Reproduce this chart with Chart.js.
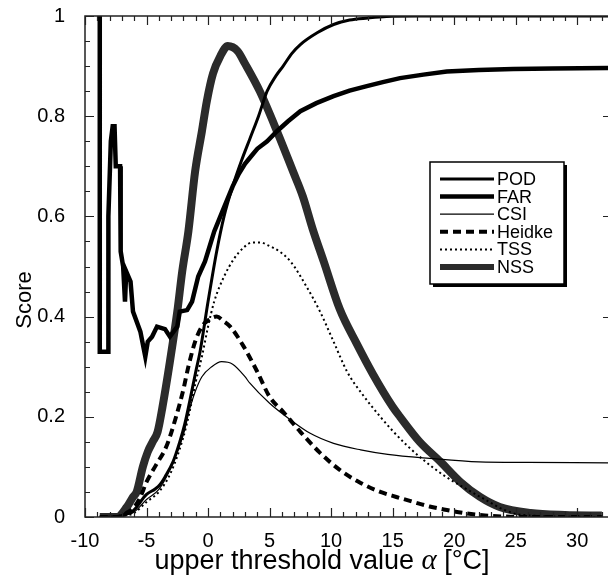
<!DOCTYPE html>
<html>
<head>
<meta charset="utf-8">
<title>Score vs upper threshold</title>
<script src="https://cdn.jsdelivr.net/npm/chart.js@4"></script>
<style>
  body { margin: 0; background: #fff; }
  #wrap { width: 608px; height: 577px; }
</style>
</head>
<body>
<div id="wrap"><canvas id="scoreChart" width="608" height="577"></canvas></div>
<script>
// threshold (deg C) / score pairs for each skill measure
var POD = [[-8.8,0],[-7.4,0],[-6.8,0.005],[-6.1,0.012],[-5.0,0.045],[-4.3,0.056],[-3.9,0.065],[-3.5,0.08],
    [-2.85,0.11],[-2.3,0.15],[-1.9,0.185],[-1.5,0.23],[-1.0,0.29],[-0.65,0.33],[0,0.43],[0.7,0.53],
    [1.3,0.6],[2.0,0.66],[2.7,0.71],[3.4,0.755],[4.1,0.80],[4.8,0.85],[5.5,0.88],[6.1,0.9],[6.8,0.925],
    [7.5,0.943],[8.9,0.967],[10.2,0.983],[11.5,0.992],[13,0.996],[14.5,0.999],[17,1],[32.5,1]];
var FAR = [[-8.8,1.0],[-8.8,0.33],[-8.1,0.33],[-8.1,0.60],[-7.9,0.75],[-7.75,0.78],[-7.6,0.78],[-7.5,0.70],
    [-7.15,0.70],[-7.1,0.53],[-6.9,0.50],[-6.75,0.43],[-6.65,0.49],[-6.3,0.47],[-6.1,0.41],[-5.5,0.37],
    [-5.1,0.32],[-4.9,0.35],[-4.55,0.36],[-4.15,0.38],[-3.5,0.375],[-3.1,0.36],[-2.5,0.38],[-2.3,0.41],
    [-1.7,0.413],[-1.3,0.43],[-0.8,0.48],[-0.25,0.51],[0,0.53],[0.5,0.57],[1.0,0.60],[1.5,0.63],[2.0,0.66],
    [2.5,0.685],[3.0,0.705],[3.5,0.72],[4.0,0.735],[4.8,0.75],[5.6,0.77],[6.5,0.79],[7.5,0.81],[8.8,0.826],
    [10.2,0.84],[11.5,0.851],[12.9,0.86],[14.2,0.868],[15.6,0.876],[17.5,0.883],[19.4,0.889],[22,0.892],
    [24.8,0.894],[28,0.895],[32.5,0.896]];
var CSI = [[-8.8,0],[-7.4,0],[-6.5,0.005],[-6,0.01],[-5,0.035],[-4,0.055],[-3,0.1],[-2,0.165],[-1.5,0.215],
    [-1.05,0.25],[-0.5,0.28],[0.3,0.30],[1.1,0.31],[2.0,0.305],[3.0,0.28],[3.4,0.267],[5.0,0.227],
    [6.7,0.194],[8.3,0.167],[10.2,0.147],[12.4,0.134],[14.6,0.125],[18,0.117],[22,0.11],[26,0.109],[32.5,0.108]];
var HEIDKE = [[-8.8,0],[-7.4,0],[-6.5,0.01],[-6,0.02],[-5.5,0.04],[-5,0.07],[-4.2,0.105],[-3.4,0.14],
    [-2.6,0.2],[-2.0,0.255],[-1.6,0.3],[-1.05,0.35],[-0.5,0.38],[0.15,0.395],[0.7,0.40],[1.3,0.39],
    [1.8,0.38],[2.9,0.34],[4.0,0.29],[5.0,0.24],[6.1,0.21],[7.5,0.17],[9.1,0.128],[10.7,0.094],
    [12.4,0.068],[14,0.05],[15.3,0.04],[16.7,0.03],[18,0.021],[19.4,0.014],[21,0.007],[22.5,0.003],
    [24,0.001],[25.5,0],[32,0]];
var TSS = [[-8.8,0],[-7.4,0],[-6.5,0.004],[-6,0.008],[-5,0.03],[-4,0.05],[-3,0.09],[-2,0.16],[-1.5,0.21],
    [-1.0,0.27],[-0.5,0.32],[0,0.38],[0.5,0.43],[1.3,0.48],[2.1,0.515],[2.9,0.538],[3.6,0.548],[4.3,0.548],
    [4.8,0.543],[5.8,0.53],[6.7,0.51],[8.0,0.46],[9.1,0.41],[10.2,0.35],[11.3,0.29],[12.6,0.243],[14.0,0.2],
    [15,0.172],[16.2,0.142],[17.5,0.114],[19.1,0.084],[20.7,0.06],[22.5,0.035],[24,0.015],[25.5,0.004],[32,0]];
var NSS = [[-8.8,0],[-7.4,0],[-6.6,0.02],[-6.1,0.04],[-5.8,0.05],[-5.3,0.10],[-4.9,0.13],[-4.5,0.15],
    [-4.1,0.17],[-3.7,0.22],[-3.1,0.31],[-2.5,0.41],[-2.1,0.49],[-1.6,0.57],[-1.05,0.69],[-0.5,0.77],
    [-0.1,0.83],[0.4,0.885],[1.0,0.92],[1.6,0.94],[2.4,0.93],[3.0,0.905],[4.2,0.85],[5.6,0.77],[6.9,0.69],
    [7.7,0.64],[8.5,0.575],[9.4,0.51],[10.7,0.415],[12.1,0.345],[13.4,0.285],[15.0,0.22],[15.6,0.2],
    [17.2,0.15],[18.9,0.11],[20.5,0.07],[22.1,0.04],[23.7,0.02],[26.2,0.008],[29,0.004],[32,0.003]];

var seriesNames = ['POD', 'FAR', 'CSI', 'Heidke', 'TSS', 'NSS'];
var xMin = -10, xMax = 32.5;
var FONT = "'Liberation Sans', Arial, Helvetica, sans-serif";

function pts(arr) {
    return arr.map(function(p) { return {x: p[0], y: p[1]}; });
}

// line look per series, shared by chart and legend
var styles = {
    'POD':    {color: '#000', width: 3, dash: []},
    'FAR':    {color: '#000', width: 4.5, dash: []},
    'CSI':    {color: '#000', width: 1.2, dash: []},
    'Heidke': {color: '#000', width: 4, dash: [8, 5]},
    'TSS':    {color: '#000', width: 2, dash: [2, 3]},
    'NSS':    {color: '#2b2b2b', width: 8, dash: []}
};
var seriesData = {'POD': POD, 'FAR': FAR, 'CSI': CSI, 'Heidke': HEIDKE, 'TSS': TSS, 'NSS': NSS};

var datasets = seriesNames.map(function(name, i) {
    var s = styles[name];
    return {
        label: name,
        data: pts(seriesData[name]),
        borderColor: s.color,
        borderWidth: s.width,
        borderDash: s.dash,
        pointRadius: 0,
        fill: false,
        cubicInterpolationMode: name === 'FAR' ? 'default' : 'monotone',
        tension: 0,
        order: name === 'NSS' ? 10 : i
    };
});

// axis frame with inward ticks, axis titles and the boxed legend
var framePlugin = {
    id: 'frame',
    afterDatasetsDraw: function(chart) {
        var ctx = chart.ctx, a = chart.chartArea;
        var xs = chart.scales.x, ys = chart.scales.y;
        ctx.save();
        ctx.strokeStyle = '#222';
        ctx.lineWidth = 1.5;
        ctx.beginPath();
        ctx.moveTo(a.right + 2, a.top); ctx.lineTo(a.left, a.top);
        ctx.lineTo(a.left, a.bottom); ctx.lineTo(a.right + 2, a.bottom);
        ctx.stroke();

        ctx.lineWidth = 1.2;
        ctx.beginPath();
        for (var v = -10; v <= 32; v++) {
            var px = Math.round(xs.getPixelForValue(v)) + 0.5;
            var len = (v % 5 === 0) ? 9 : 5;
            ctx.moveTo(px, a.bottom); ctx.lineTo(px, a.bottom - len);
            ctx.moveTo(px, a.top); ctx.lineTo(px, a.top + len);
        }
        for (var k = 0; k <= 20; k++) {
            var py = Math.round(ys.getPixelForValue(k * 0.05)) + 0.5;
            var major = (k % 4 === 0);
            ctx.moveTo(a.left, py); ctx.lineTo(a.left + (major ? 9 : 5), py);
            if (major && k > 0 && k < 20) {
                ctx.moveTo(a.right, py); ctx.lineTo(a.right - 5, py);
            }
        }
        ctx.stroke();

        // axis titles
        ctx.fillStyle = '#000';
        var titleFont = '27px ' + FONT;
        var greek = "italic 29px 'Liberation Serif', 'DejaVu Serif', serif";
        ctx.textBaseline = 'alphabetic';
        var t1 = 'upper threshold value ', t2 = '\u03b1', t3 = ' [\u00b0C]';
        ctx.font = titleFont;
        var w1 = ctx.measureText(t1).width, w3 = ctx.measureText(t3).width;
        ctx.font = greek;
        var w2 = ctx.measureText(t2).width;
        var tx = 322 - (w1 + w2 + w3) / 2, ty = 569;
        ctx.textAlign = 'left';
        ctx.font = titleFont;
        ctx.fillText(t1, tx, ty);
        ctx.font = greek;
        ctx.fillText(t2, tx + w1, ty);
        ctx.font = titleFont;
        ctx.fillText(t3, tx + w1 + w2, ty);

        ctx.save();
        ctx.translate(31, 300);
        ctx.rotate(-Math.PI / 2);
        ctx.textAlign = 'center';
        ctx.font = '22px ' + FONT;
        ctx.fillText('Score', 0, 0);
        ctx.restore();

        // legend box with drop shadow
        var bx = 430, by = 162, bw = 134, bh = 122;
        ctx.fillStyle = '#000';
        ctx.fillRect(bx + 3, by + 3, bw, bh);
        ctx.fillStyle = '#fff';
        ctx.fillRect(bx, by, bw, bh);
        ctx.strokeStyle = '#000';
        ctx.lineWidth = 1.5;
        ctx.strokeRect(bx, by, bw, bh);
        ctx.font = '18px ' + FONT;
        ctx.textAlign = 'left';
        ctx.textBaseline = 'middle';
        seriesNames.forEach(function(name, i) {
            var s = styles[name];
            var ly = 179 + i * 17.6;
            ctx.save();
            ctx.strokeStyle = s.color;
            ctx.lineWidth = Math.min(s.width, 6);
            ctx.setLineDash(s.dash);
            ctx.beginPath();
            ctx.moveTo(440, ly); ctx.lineTo(494, ly);
            ctx.stroke();
            ctx.restore();
            ctx.fillStyle = '#000';
            ctx.fillText(name, 497, ly + 1);
        });
        ctx.restore();
    }
};

new Chart(document.getElementById('scoreChart'), {
    type: 'line',
    data: {datasets: datasets},
    options: {
        responsive: false,
        animation: false,
        devicePixelRatio: 1,
        layout: {padding: {top: 16, right: 0, left: 0, bottom: 0}},
        plugins: {legend: {display: false}, tooltip: {enabled: false}},
        scales: {
            x: {
                type: 'linear', min: xMin, max: xMax,
                grid: {display: false}, border: {display: false},
                afterFit: function(scale) {
                    scale.height = 60;
                    scale.paddingLeft = 0; scale.paddingRight = 0;
                },
                ticks: {
                    stepSize: 5, includeBounds: false, maxRotation: 0, padding: 4,
                    color: '#000', font: {family: FONT, size: 20},
                    callback: function(v) { return v % 5 === 0 ? String(v) : ''; }
                }
            },
            y: {
                type: 'linear', min: 0, max: 1,
                grid: {display: false}, border: {display: false},
                afterFit: function(scale) {
                    scale.width = 85;
                    scale.paddingTop = 0; scale.paddingBottom = 0;
                },
                ticks: {
                    stepSize: 0.2, padding: 12,
                    color: '#000', font: {family: FONT, size: 20},
                    callback: function(v) { return String(Math.round(v * 10) / 10); }
                }
            }
        }
    },
    plugins: [framePlugin]
});
</script>
</body>
</html>
